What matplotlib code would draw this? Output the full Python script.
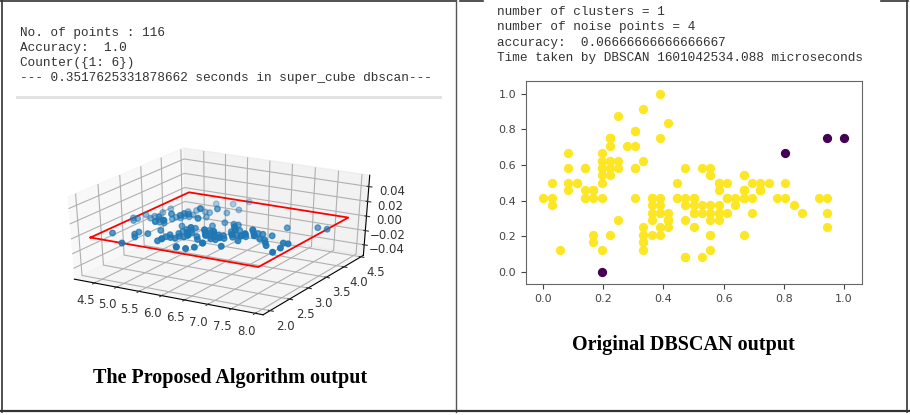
import numpy as np
import matplotlib.pyplot as plt
from matplotlib.lines import Line2D
from matplotlib.patches import Rectangle

# sepal length / width of the points in the single cluster
sepal_len = [5.1, 4.9, 4.7, 4.6, 5.0, 5.4, 4.6, 5.0, 4.4, 4.9, 5.4, 4.8, 4.8, 4.3, 5.8, 5.7, 5.4, 5.1, 5.7, 5.1,
             5.4, 5.1, 4.6, 5.1, 4.8, 5.0, 5.0, 5.2, 5.2, 4.7, 4.8, 5.4, 5.2, 5.5, 4.9, 5.0, 5.5, 4.9, 4.4, 5.1,
             5.0, 4.5, 4.4, 5.0, 5.1, 4.8, 5.1, 4.6, 5.3, 5.0,
             7.0, 6.4, 6.9, 5.5, 6.5, 5.7, 6.3, 4.9, 6.6, 5.2, 5.9, 6.0, 6.1, 5.6, 6.7, 5.6, 5.8, 6.2, 5.6, 5.9,
             6.1, 6.3, 6.1, 6.4, 6.6, 6.8, 6.7, 6.0, 5.7, 5.5, 5.5, 5.8, 6.0, 5.4, 6.0, 6.7, 6.3, 5.6, 5.5, 5.5,
             6.1, 5.8, 5.0, 5.6, 5.7, 5.7, 6.2, 5.1, 5.7,
             6.3, 5.8, 7.1, 6.3, 6.5, 7.6, 4.9, 7.3, 6.7, 6.5, 6.4, 6.8, 5.7, 5.8, 6.4, 6.5, 7.7, 6.0, 6.9, 5.6,
             7.7, 6.3, 6.7, 7.2, 6.2, 6.1, 6.4, 7.2, 7.4, 6.4, 6.3, 6.1, 7.7, 6.3, 6.4, 6.0, 6.9, 6.7, 6.9, 5.8,
             6.8, 6.7, 6.7, 6.3, 6.5, 6.2, 5.9]
sepal_wid = [3.5, 3.0, 3.2, 3.1, 3.6, 3.9, 3.4, 3.4, 2.9, 3.1, 3.7, 3.4, 3.0, 3.0, 4.0, 4.4, 3.9, 3.5, 3.8, 3.8,
             3.4, 3.7, 3.6, 3.3, 3.4, 3.0, 3.4, 3.5, 3.4, 3.2, 3.1, 3.4, 4.1, 4.2, 3.1, 3.2, 3.5, 3.1, 3.0, 3.4,
             3.5, 2.3, 3.2, 3.5, 3.8, 3.0, 3.8, 3.2, 3.7, 3.3,
             3.2, 3.2, 3.1, 2.3, 2.8, 2.8, 3.3, 2.4, 2.9, 2.7, 3.0, 2.2, 2.9, 2.9, 3.1, 3.0, 2.7, 2.2, 2.5, 3.2,
             2.8, 2.5, 2.8, 2.9, 3.0, 2.8, 3.0, 2.9, 2.6, 2.4, 2.4, 2.7, 2.7, 3.0, 3.4, 3.1, 2.3, 3.0, 2.5, 2.6,
             3.0, 2.6, 2.3, 2.7, 3.0, 2.9, 2.9, 2.5, 2.8,
             3.3, 2.7, 3.0, 2.9, 3.0, 3.0, 2.5, 2.9, 2.5, 3.2, 2.7, 3.0, 2.5, 2.8, 3.2, 3.0, 2.6, 2.2, 3.2, 2.8,
             2.8, 2.7, 3.3, 3.2, 2.8, 3.0, 2.8, 3.0, 2.8, 2.8, 2.8, 2.6, 3.0, 3.4, 3.1, 3.0, 3.1, 3.1, 3.1, 2.7,
             3.2, 3.3, 3.0, 2.5, 3.0, 3.4, 3.0]
# noise points
noise_len = [5.0, 7.2, 7.7, 7.9]
noise_wid = [2.0, 3.6, 3.8, 3.8]

left_lines = ["No. of points : 116", "Accuracy:  1.0", "Counter({1: 6})",
              "--- 0.3517625331878662 seconds in super_cube dbscan---"]
right_lines = ["number of clusters = 1", "number of noise points = 4",
               "accuracy:  0.06666666666666667",
               "Time taken by DBSCAN 1601042534.088 microseconds"]

W, H = 910, 415
fig = plt.figure(figsize=(9.1, 4.15), dpi=100)

def fx(x):
    return x / W

def fy(y):
    return 1 - y / H

def seg(x0, y0, x1, y1, c="#333333", lw=1.2):
    fig.add_artist(Line2D([fx(x0), fx(x1)], [fy(y0), fy(y1)], transform=fig.transFigure,
                          color=c, lw=lw))

### left panel ###
all_len = np.array(sepal_len + noise_len)
all_wid = np.array(sepal_wid + noise_wid)

ax3 = fig.add_axes([fx(49), fy(327), fx(336), 194 / H], projection="3d")
# old-style 3d: let the projection stretch to the axes box
ax3.apply_aspect = lambda position=None: None
ax3.scatter(all_len, all_wid, np.zeros(len(all_len)), color="#1f77b4", s=16)
xmin, xmax = all_len.min(), all_len.max()
ymin, ymax = all_wid.min(), all_wid.max()
ax3.plot([xmin, xmax, xmax, xmin, xmin], [ymin, ymin, ymax, ymax, ymin], [0, 0, 0, 0, 0], color="red", lw=1.3)
ax3.set_xticks([4.5, 5.0, 5.5, 6.0, 6.5, 7.0, 7.5, 8.0])
ax3.set_yticks([2.0, 2.5, 3.0, 3.5, 4.0, 4.5])
ax3.set_zlim(-0.055, 0.055)
ax3.set_zticks([-0.04, -0.02, 0.0, 0.02, 0.04])
ax3.tick_params(labelsize=8.5, pad=0, colors="#333333")
ax3.view_init(elev=30, azim=-60)

for i, t in enumerate(left_lines):
    fig.text(fx(20), fy(33 + i * 15), t, family="Liberation Mono", fontsize=9.2,
             color="#333333", va="center")
fig.add_artist(Rectangle((fx(16), fy(99)), fx(426), 3 / H, transform=fig.transFigure,
                         color="#e2e2e2", lw=0))

fig.text(fx(230), fy(378), "The Proposed Algorithm output", family="Liberation Serif",
         weight="bold", fontsize=14.5, ha="center", va="center")

### right panel ###
lo_x, hi_x = all_len.min(), all_len.max()
lo_y, hi_y = all_wid.min(), all_wid.max()
ax = fig.add_axes([fx(526), fy(284), fx(862 - 526), (284 - 81) / H])
ax.scatter((np.array(sepal_len) - lo_x) / (hi_x - lo_x), (np.array(sepal_wid) - lo_y) / (hi_y - lo_y),
           color="#fde725", s=32)
ax.scatter((np.array(noise_len) - lo_x) / (hi_x - lo_x), (np.array(noise_wid) - lo_y) / (hi_y - lo_y),
           color="#440154", s=32)
ax.set_xlim(-0.057, 1.06)
ax.set_ylim(-0.068, 1.072)
ax.set_xticks([0, 0.2, 0.4, 0.6, 0.8, 1.0])
ax.set_yticks([0, 0.2, 0.4, 0.6, 0.8, 1.0])
ax.tick_params(labelsize=8, colors="#444444")
for s in ax.spines.values():
    s.set_color("#666666")

for i, t in enumerate(right_lines):
    fig.text(fx(497), fy(12 + i * 15.3), t, family="Liberation Mono", fontsize=9.15,
             color="#333333", va="center")

fig.text(fx(683), fy(345), "Original DBSCAN output", family="Liberation Serif",
         weight="bold", fontsize=14.5, ha="center", va="center")

# table borders
seg(0, 1, 456, 1)
seg(460, 1, 483, 1)
seg(881, 1, 908, 1)
seg(2, 0, 2, 412)
seg(907, 0, 907, 412)
seg(456, 0, 456, 412, c="#555555", lw=1.0)
seg(0, 411, 910, 411, lw=1.6)

fig.savefig("out.png", dpi=100)
